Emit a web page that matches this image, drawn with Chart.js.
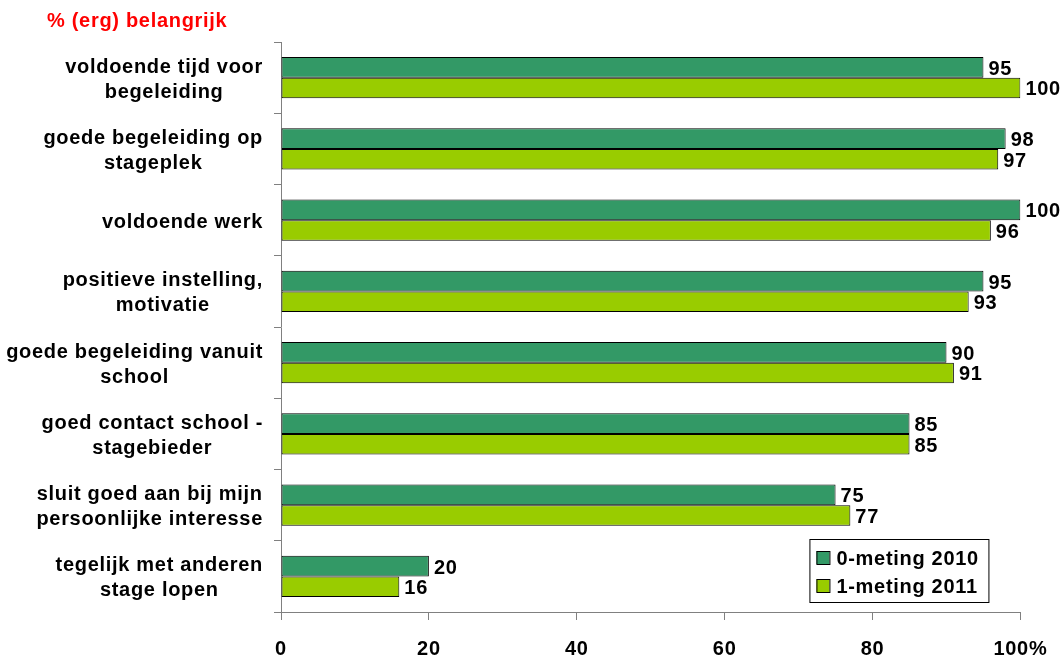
<!DOCTYPE html>
<html>
<head>
<meta charset="utf-8">
<script src="https://cdn.jsdelivr.net/npm/chart.js@4/dist/chart.umd.min.js"></script>
<style>
  html, body { margin: 0; padding: 0; background: #fff; }
  #wrap { position: relative; width: 1063px; height: 655px; }
</style>
</head>
<body>
<div id="wrap"><canvas id="myChart" width="1063" height="655"></canvas></div>
<script>
// chart data
var categories = [
    ['voldoende tijd voor', 'begeleiding'],
    ['goede begeleiding op', 'stageplek'],
    ['voldoende werk'],
    ['positieve instelling,', 'motivatie'],
    ['goede begeleiding vanuit', 'school'],
    ['goed contact school -', 'stagebieder'],
    ['sluit goed aan bij mijn', 'persoonlijke interesse'],
    ['tegelijk met anderen', 'stage lopen']
];
var label1 = '0-meting 2010';
var values1 = [95, 98, 100, 95, 90, 85, 75, 20];
var label2 = '1-meting 2011';
var values2 = [100, 97, 96, 93, 91, 85, 77, 16];
var xTicks = [0, 20, 40, 60, 80, 100];
var chartTitle = '% (erg) belangrijk';

var fontFamily = 'Arial, "Liberation Sans", sans-serif';
var boldFont = { family: fontFamily, size: 20, weight: 'bold' };
var cssFont = 'bold 20px ' + fontFamily;
var spacing = '0.7px';

// The original text is spaced a bit wider than the canvas default
var textSpacing = {
    id: 'textSpacing',
    beforeDraw: function (chart) {
        chart.ctx.letterSpacing = spacing;
    }
};

// Category labels: each block right aligned next to the axis, lines centred inside the block
var categoryLabels = {
    id: 'categoryLabels',
    afterDraw: function (chart) {
        var ctx = chart.ctx;
        var yScale = chart.scales.y;
        var rightEdge = chart.chartArea.left - 18;
        ctx.save();
        ctx.letterSpacing = spacing;
        ctx.font = cssFont;
        ctx.fillStyle = '#000';
        ctx.textAlign = 'center';
        ctx.textBaseline = 'middle';
        categories.forEach(function (lines, i) {
            var widest = 0;
            lines.forEach(function (line) {
                widest = Math.max(widest, ctx.measureText(line).width);
            });
            var cx = rightEdge - widest / 2;
            var cy = yScale.getPixelForValue(i) + 2;
            lines.forEach(function (line, k) {
                ctx.fillText(line, cx, cy + (k - (lines.length - 1) / 2) * 25);
            });
        });
        ctx.restore();
    }
};

// Draws the value next to the end of every bar
var valueLabels = {
    id: 'valueLabels',
    afterDatasetsDraw: function (chart) {
        var ctx = chart.ctx;
        ctx.save();
        ctx.letterSpacing = spacing;
        ctx.font = cssFont;
        ctx.fillStyle = '#000';
        ctx.textAlign = 'left';
        ctx.textBaseline = 'middle';
        chart.data.datasets.forEach(function (ds, i) {
            chart.getDatasetMeta(i).data.forEach(function (bar, j) {
                ctx.fillText(ds.data[j], bar.x + 5, bar.y + 2);
            });
        });
        ctx.restore();
    }
};

// Title in the top left corner and the boxed legend in the lower right
var extras = {
    id: 'extras',
    afterDraw: function (chart) {
        var ctx = chart.ctx;
        var area = chart.chartArea;
        ctx.save();
        ctx.letterSpacing = spacing;
        ctx.font = cssFont;
        ctx.fillStyle = '#ff0000';
        ctx.textBaseline = 'middle';
        ctx.fillText(chartTitle, 47, 21);

        var boxX = area.right - 211, boxY = area.bottom - 73, boxW = 179, boxH = 63;
        ctx.fillStyle = '#fff';
        ctx.fillRect(boxX, boxY, boxW, boxH);
        ctx.strokeStyle = '#000';
        ctx.lineWidth = 1;
        ctx.strokeRect(boxX + 0.5, boxY + 0.5, boxW, boxH);
        chart.data.datasets.forEach(function (ds, i) {
            var y = boxY + 12 + i * 28;
            ctx.fillStyle = ds.backgroundColor;
            ctx.fillRect(boxX + 7, y, 13, 13);
            ctx.strokeRect(boxX + 7.5, y + 0.5, 13, 13);
            ctx.fillStyle = '#000';
            ctx.fillText(ds.label, boxX + 27, y + 8);
        });
        ctx.restore();
    }
};

var ctx = document.getElementById('myChart').getContext('2d');
var config = {
    type: 'bar',
    data: {
        labels: categories,
        datasets: [
            {
                label: label1,
                data: values1,
                backgroundColor: '#339966',
                borderColor: '#000',
                borderWidth: 1,
                borderSkipped: false
            },
            {
                label: label2,
                data: values2,
                backgroundColor: '#99cc00',
                borderColor: '#000',
                borderWidth: 1,
                borderSkipped: false
            }
        ]
    },
    options: {
        indexAxis: 'y',
        responsive: false,
        animation: false,
        layout: { padding: { top: 42, right: 42, left: 0, bottom: 0 } },
        plugins: {
            legend: { display: false },
            tooltip: { enabled: false }
        },
        datasets: {
            bar: { categoryPercentage: 0.58, barPercentage: 1 }
        },
        scales: {
            x: {
                min: 0,
                max: 100,
                afterBuildTicks: function (scale) {
                    scale.ticks = xTicks.map(function (v) { return { value: v }; });
                },
                afterFit: function (scale) { scale.height = 43; },
                border: { color: '#808080', width: 1 },
                grid: { drawOnChartArea: false, tickLength: 8, color: '#808080' },
                ticks: {
                    color: '#000',
                    font: boldFont,
                    padding: 17,
                    maxRotation: 0,
                    callback: function (v) { return v === 100 ? '100%' : v; }
                }
            },
            y: {
                afterFit: function (scale) { scale.width = 281; },
                border: { color: '#808080', width: 1 },
                grid: { offset: true, drawOnChartArea: false, tickLength: 7, color: '#808080' },
                ticks: { display: false }
            }
        }
    },
    plugins: [textSpacing, valueLabels, categoryLabels, extras]
};

var myChart = new Chart(ctx, config);
</script>
</body>
</html>
